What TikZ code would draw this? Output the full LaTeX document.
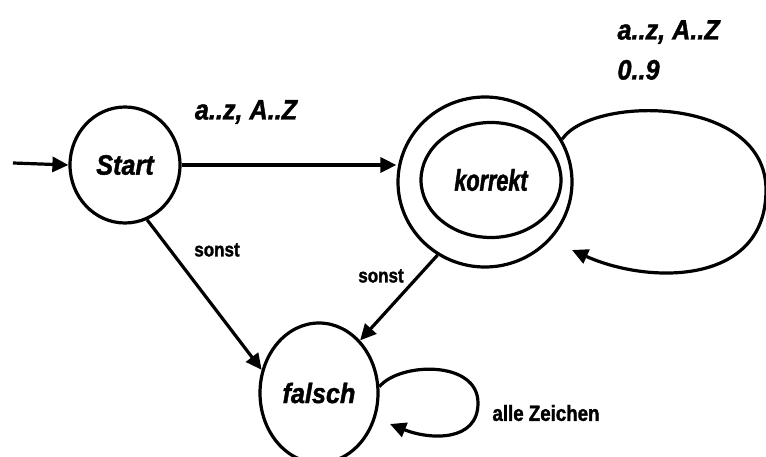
\documentclass[tikz,border=0pt]{standalone}
\usepackage{fontspec}
\usetikzlibrary{shapes.geometric,arrows.meta}
\newfontfamily\wideB[FakeStretch=0.9,FakeBold=1.5]{Liberation Sans}
\newfontfamily\narrowB[FakeStretch=0.72,FakeBold=1.5]{Liberation Sans}
\newfontfamily\condB[FakeStretch=0.85,FakeBold=1.5]{Liberation Sans}
\begin{document}
\begin{tikzpicture}[x=1pt,y=-1pt,
  state/.style={ellipse, draw, line width=3.2pt, inner sep=0pt},
  stlabel/.style={font=\wideB\bfseries\itshape\fontsize{28}{40}\selectfont},
  edgelabel/.style={font=\wideB\bfseries\itshape\fontsize{28}{40}\selectfont, align=left},
  smalllabel/.style={font=\condB\bfseries\fontsize{20}{24}\selectfont},
  trans/.style={line width=3.2pt, -{Triangle[length=16pt,width=15pt]}}]
\useasboundingbox (0,0) rectangle (766,457);

% states
\node[state, minimum width=110pt, minimum height=116pt, stlabel] (s) at (125,165) {Start};
\node[state, minimum width=174pt, minimum height=170pt] (k) at (485,182) {};
\node[state, minimum width=140pt, minimum height=115pt,
      font=\narrowB\bfseries\itshape\fontsize{30}{36}\selectfont] (ki) at (491,180) {korrekt};
\node[state, minimum width=118pt, minimum height=140pt,
      font=\wideB\bfseries\itshape\fontsize{28}{32}\selectfont] (f) at (319,393) {falsch};

% loose ends
\coordinate (in) at (13,163);
\coordinate (kend) at (572,250);
\coordinate (fend) at (390,424);

% transitions
\draw[trans] (in) -- (s.west);
\draw[trans] (s.east) -- (s.east -| k.west);
\draw[trans] (s.-68) -- (f.158);
\draw[trans] (k.-123) -- (f.52);
\draw[trans] (k.29) .. controls (592,95) and (766,95) .. (766,190)
                    .. controls (766,285) and (650,285) .. (kend);
\draw[trans] (f.6) .. controls (400,362) and (478,360) .. (478,403)
                   .. controls (478,442) and (430,440) .. (fend);

% labels
\node[edgelabel] (l1) at (246,112) {a..z, A..Z};
\node[edgelabel, anchor=west] (l2) at (614,50) {a..z, A..Z\\0..9};
\node[smalllabel] (l3) at (217,250) {sonst};
\node[smalllabel] (l4) at (381,276) {sonst};
\node[smalllabel, font=\condB\bfseries\fontsize{22}{24}\selectfont] (l5) at (546,413) {alle Zeichen};
\end{tikzpicture}
\end{document}
